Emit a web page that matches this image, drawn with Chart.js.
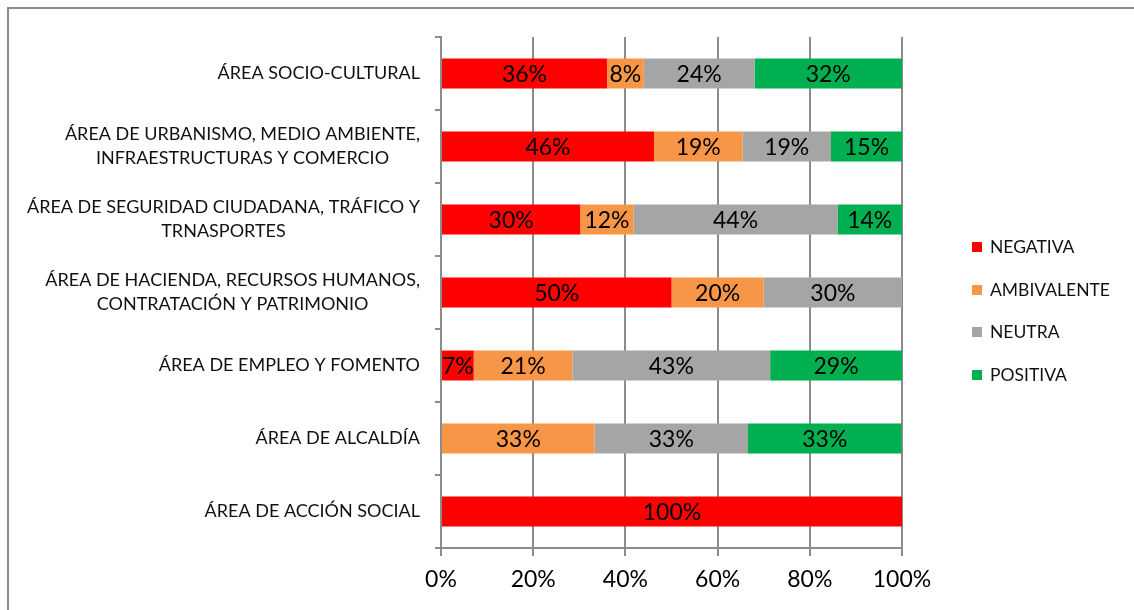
<!DOCTYPE html>
<html>
<head>
<meta charset="utf-8">
<script src="https://cdn.jsdelivr.net/npm/chart.js@4/dist/chart.umd.min.js"></script>
<style>
    html, body { margin: 0; padding: 0; background: #fff; width: 1134px; height: 610px; overflow: hidden; }
    #marco { position: absolute; left: 7px; top: 7px; width: 1200px; height: 700px;
             border-top: 2px solid #8c8c8c; border-left: 2px solid #8c8c8c; }
    #grafico { position: absolute; left: 0; top: 0; }
    #leyenda { position: absolute; left: 972px; top: 236px; font-family: Lato, sans-serif; font-size: 17.5px; color: #111; }
    #leyenda div { height: 42.7px; display: flex; align-items: flex-start; }
    #leyenda span.caja { display: inline-block; width: 10px; height: 10px; margin-top: 6px; margin-right: 8px; }
</style>
</head>
<body>
<div id="marco"></div>
<canvas id="grafico" width="1134" height="610"></canvas>
<div id="leyenda"></div>
<script>
// categorías, de arriba a abajo (cada elemento = líneas de la etiqueta)
const categorias = [
    ['ÁREA SOCIO-CULTURAL'],
    ['ÁREA DE URBANISMO, MEDIO AMBIENTE,', 'INFRAESTRUCTURAS Y COMERCIO'],
    ['ÁREA DE SEGURIDAD CIUDADANA, TRÁFICO Y', 'TRNASPORTES'],
    ['ÁREA DE HACIENDA, RECURSOS HUMANOS,', 'CONTRATACIÓN Y PATRIMONIO'],
    ['ÁREA DE EMPLEO Y FOMENTO'],
    ['ÁREA DE ALCALDÍA'],
    ['ÁREA DE ACCIÓN SOCIAL']
];

// porcentajes
const negativa    = [36, 46.2, 30.2, 50, 7.1, 0, 100];
const ambivalente = [8, 19.2, 11.6, 20, 21.4, 33.3, 0];
const neutra      = [24, 19.2, 44.2, 30, 42.9, 33.3, 0];
const positiva    = [32, 15.4, 14.0, 0, 28.6, 33.3, 0];

const series   = ['NEGATIVA', 'AMBIVALENTE', 'NEUTRA', 'POSITIVA'];
const colores  = ['#ff0000', '#f79646', '#a5a5a5', '#00b050'];
const ticksX   = [0, 20, 40, 60, 80, 100];

const gris = '#8c8c8c';

// etiquetas de porcentaje dentro de cada tramo
const etiquetasDatos = {
    id: 'etiquetasDatos',
    afterDatasetsDraw(chart) {
        const ctx = chart.ctx;
        ctx.save();
        ctx.font = '23px Lato';
        ctx.fillStyle = '#000';
        ctx.textAlign = 'center';
        ctx.textBaseline = 'middle';
        chart.data.datasets.forEach((ds, i) => {
            chart.getDatasetMeta(i).data.forEach((barra, j) => {
                const v = ds.data[j];
                if (!v) return;
                const { x, y, base } = barra.getProps(['x', 'y', 'base'], true);
                ctx.fillText(Math.round(v) + '%', (x + base) / 2, y + 1);
            });
        });
        ctx.restore();
    }
};

// etiquetas del eje Y con las líneas centradas entre sí
const etiquetasCategorias = {
    id: 'etiquetasCategorias',
    afterDraw(chart) {
        const ctx = chart.ctx;
        const escala = chart.scales.y;
        const derecha = escala.right - 6 - 15;
        const interlineado = 24;
        ctx.save();
        ctx.font = '18px Lato';
        ctx.fillStyle = '#111';
        ctx.textAlign = 'center';
        ctx.textBaseline = 'middle';
        categorias.forEach((lineas, i) => {
            const yc = escala.getPixelForValue(i);
            const ancho = Math.max(...lineas.map(l => ctx.measureText(l).width));
            const xc = derecha - ancho / 2;
            lineas.forEach((l, k) => {
                ctx.fillText(l, xc, yc + (k - (lineas.length - 1) / 2) * interlineado);
            });
        });
        ctx.restore();
    }
};

const datos = [negativa, ambivalente, neutra, positiva];

new Chart(document.getElementById('grafico'), {
    type: 'bar',
    data: {
        labels: categorias.map(c => c.join(' ')),
        datasets: series.map((s, i) => ({
            label: s,
            data: datos[i],
            backgroundColor: colores[i],
            borderWidth: 0,
            barPercentage: 0.41,
            categoryPercentage: 1
        }))
    },
    options: {
        indexAxis: 'y',
        responsive: false,
        animation: false,
        layout: { padding: { top: 37, right: 232, left: 0, bottom: 0 } },
        plugins: {
            legend: { display: false },
            tooltip: { enabled: false }
        },
        scales: {
            x: {
                stacked: true,
                min: 0,
                max: 100,
                afterBuildTicks: (escala) => { escala.ticks = ticksX.map(v => ({ value: v })); },
                afterFit: (escala) => { escala.height = 62; },
                ticks: {
                    callback: (v) => v + '%',
                    font: { family: 'Lato', size: 23 },
                    color: '#000',
                    padding: 10,
                    maxRotation: 0
                },
                grid: { color: gris, lineWidth: 2, tickLength: 8 },
                border: { color: gris, width: 2 }
            },
            y: {
                stacked: true,
                afterFit: (escala) => { escala.width = 441; },
                ticks: { display: false },
                grid: { drawOnChartArea: false, offset: true, color: gris, lineWidth: 2, tickLength: 6 },
                border: { color: gris, width: 2 }
            }
        }
    },
    plugins: [etiquetasDatos, etiquetasCategorias]
});

// leyenda
const leyenda = document.getElementById('leyenda');
series.forEach((s, i) => {
    const fila = document.createElement('div');
    const caja = document.createElement('span');
    caja.className = 'caja';
    caja.style.background = colores[i];
    fila.appendChild(caja);
    fila.appendChild(document.createTextNode(s));
    leyenda.appendChild(fila);
});
</script>
</body>
</html>
